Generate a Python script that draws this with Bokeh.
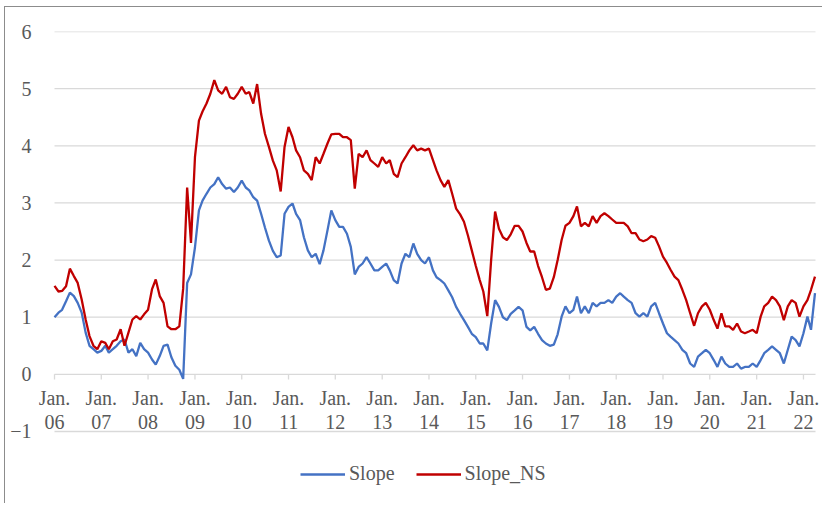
from datetime import datetime, timedelta

import pandas as pd
from bokeh.embed import file_html
from bokeh.models import ColumnDataSource, LabelSet, Legend, LegendItem, Range1d
from bokeh.plotting import figure
from bokeh.resources import INLINE

# month-start values (Jan 2006 .. Apr 2022)
slope = [
    1.00, 1.08, 1.13, 1.28, 1.43, 1.37, 1.25, 1.08, 0.73, 0.50, 0.44, 0.38,  # 2006
    0.41, 0.50, 0.38, 0.44, 0.50, 0.58, 0.61, 0.38, 0.44, 0.32, 0.55, 0.44,  # 2007
    0.38, 0.26, 0.17, 0.32, 0.50, 0.52, 0.30, 0.15, 0.08, -0.08, 1.60, 1.75,  # 2008
    2.22, 2.87, 3.04, 3.16, 3.27, 3.33, 3.45, 3.33, 3.25, 3.27, 3.19, 3.27,  # 2009
    3.39, 3.27, 3.22, 3.10, 3.04, 2.81, 2.57, 2.34, 2.16, 2.05, 2.08, 2.81,  # 2010
    2.93, 2.99, 2.81, 2.70, 2.40, 2.17, 2.05, 2.11, 1.93, 2.17, 2.52, 2.87,  # 2011
    2.70, 2.58, 2.58, 2.46, 2.23, 1.75, 1.88, 1.94, 2.05, 1.94, 1.82, 1.82,  # 2012
    1.88, 1.94, 1.82, 1.65, 1.59, 1.94, 2.11, 2.05, 2.29, 2.11, 2.00, 1.94,  # 2013
    2.05, 1.82, 1.70, 1.65, 1.59, 1.47, 1.35, 1.18, 1.06, 0.95, 0.83, 0.71,  # 2014
    0.65, 0.54, 0.54, 0.42, 0.89, 1.30, 1.18, 1.00, 0.95, 1.06, 1.12, 1.18,  # 2015
    1.12, 0.83, 0.77, 0.83, 0.71, 0.60, 0.54, 0.50, 0.52, 0.70, 1.01, 1.19,  # 2016
    1.07, 1.13, 1.36, 1.07, 1.19, 1.07, 1.25, 1.19, 1.25, 1.25, 1.30, 1.25,  # 2017
    1.36, 1.42, 1.36, 1.30, 1.25, 1.07, 1.01, 1.07, 1.01, 1.19, 1.25, 1.07,  # 2018
    0.89, 0.72, 0.66, 0.60, 0.54, 0.43, 0.37, 0.19, 0.13, 0.31, 0.37, 0.43,  # 2019
    0.37, 0.25, 0.13, 0.31, 0.19, 0.13, 0.13, 0.19, 0.10, 0.13, 0.13, 0.19,  # 2020
    0.13, 0.25, 0.37, 0.43, 0.49, 0.43, 0.37, 0.19, 0.43, 0.66, 0.60, 0.49,  # 2021
    0.72, 1.01, 0.78, 1.42,                                                  # 2022
]

slope_ns = [
    1.55, 1.45, 1.46, 1.54, 1.85, 1.72, 1.60, 1.31, 0.96, 0.67, 0.50, 0.44,  # 2006
    0.58, 0.55, 0.44, 0.58, 0.61, 0.79, 0.50, 0.73, 0.96, 1.02, 0.96, 1.05,  # 2007
    1.13, 1.49, 1.66, 1.37, 1.25, 0.84, 0.79, 0.79, 0.84, 1.50, 3.27, 2.30,  # 2008
    3.80, 4.44, 4.60, 4.74, 4.91, 5.15, 4.97, 4.91, 5.03, 4.85, 4.82, 4.91,  # 2009
    5.03, 4.91, 4.94, 4.74, 5.08, 4.56, 4.21, 3.98, 3.74, 3.57, 3.20, 3.98,  # 2010
    4.33, 4.15, 3.92, 3.80, 3.57, 3.51, 3.40, 3.80, 3.69, 3.86, 4.04, 4.20,  # 2011
    4.21, 4.21, 4.15, 4.15, 4.10, 3.25, 3.86, 3.80, 3.92, 3.75, 3.69, 3.63,  # 2012
    3.80, 3.69, 3.75, 3.51, 3.45, 3.69, 3.80, 3.92, 4.01, 3.92, 3.95, 3.92,  # 2013
    3.95, 3.75, 3.57, 3.40, 3.28, 3.40, 3.16, 2.90, 2.80, 2.67, 2.43, 2.17,  # 2014
    1.90, 1.65, 1.45, 1.02, 2.00, 2.85, 2.55, 2.40, 2.35, 2.45, 2.60, 2.60,  # 2015
    2.50, 2.30, 2.15, 2.15, 1.90, 1.70, 1.48, 1.50, 1.70, 2.00, 2.35, 2.60,  # 2016
    2.65, 2.77, 2.94, 2.59, 2.65, 2.59, 2.77, 2.65, 2.77, 2.82, 2.77, 2.71,  # 2017
    2.65, 2.65, 2.65, 2.59, 2.47, 2.47, 2.36, 2.33, 2.36, 2.42, 2.39, 2.24,  # 2018
    2.06, 1.95, 1.83, 1.71, 1.65, 1.48, 1.30, 1.07, 0.85, 1.07, 1.19, 1.25,  # 2019
    1.13, 0.95, 0.80, 1.07, 0.84, 0.84, 0.78, 0.89, 0.75, 0.72, 0.75, 0.78,  # 2020
    0.72, 1.01, 1.19, 1.25, 1.36, 1.30, 1.19, 0.95, 1.19, 1.30, 1.25, 1.01,  # 2021
    1.19, 1.30, 1.48, 1.71,                                                  # 2022
]

year_labels = ["06", "07", "08", "09", "10", "11", "12", "13", "14",
               "15", "16", "17", "18", "19", "20", "21", "22"]
y_ticks = [-1, 0, 1, 2, 3, 4, 5, 6]

FONT = "'Liberation Serif', serif"
TEXT = "#595959"
GRID = "#d9d9d9"

months = pd.date_range("2006-01-01", periods=len(slope), freq="MS")
jan_ticks = pd.date_range("2006-01-01", periods=len(year_labels), freq="YS")
axis_start = datetime(2006, 1, 1)
axis_end = datetime(2022, 4, 5)

# the plot frame is wider/taller than the axis box so that the tick labels
# and the legend (drawn inside the frame) are not clipped
PX_YEAR = 46.8
PX_UNIT = 57.14
x_lo = axis_start - timedelta(days=365.25 * 16 / PX_YEAR)
x_hi = axis_end + timedelta(days=365.25 * 8 / PX_YEAR)
y_lo = -1 - 59 / PX_UNIT

src = ColumnDataSource(data=dict(x=months, slope=slope, slope_ns=slope_ns))
tick_src = ColumnDataSource(data=dict(
    x=jan_ticks, y=[0] * len(year_labels),
    jan=["Jan."] * len(year_labels), yr=year_labels,
))
grid_src = ColumnDataSource(data=dict(
    x0=[axis_start] * len(y_ticks), x1=[axis_end] * len(y_ticks), y=y_ticks,
))

p = figure(width=818, height=497, x_axis_type="datetime",
           x_range=Range1d(x_lo, x_hi), y_range=Range1d(y_lo, 6),
           min_border_left=33, min_border_right=0,
           min_border_top=24, min_border_bottom=14,
           toolbar_location=None, output_backend="svg")
# chart-area box, as in the spreadsheet export (only left/top edges show)
p.styles = {"margin-left": "4px", "margin-top": "6px",
            "border-left": "1px solid #8c8c8c", "border-top": "1px solid #8c8c8c"}
p.outline_line_color = None
p.background_fill_color = "white"
p.border_fill_color = "white"

p.xaxis.visible = False
p.xgrid.visible = False
p.ygrid.visible = False

p.yaxis.ticker = y_ticks
p.yaxis.axis_line_color = None
p.yaxis.major_tick_line_color = None
p.yaxis.minor_tick_line_color = None
p.yaxis.major_label_standoff = 1
p.yaxis.major_label_text_font = FONT
p.yaxis.major_label_text_font_size = "20px"
p.yaxis.major_label_text_color = TEXT

# horizontal gridlines (only across the axis box)
p.segment(x0="x0", y0="y", x1="x1", y1="y", source=grid_src,
          line_color=GRID, line_width=1.3)
# category axis sits on the zero line, with small ticks under it
p.segment(x0="x", y0=0, x1="x", y1=-0.09, source=tick_src,
          line_color=GRID, line_width=1.3)

r1 = p.line("x", "slope", source=src, line_color="#4472C4", line_width=2.3)
r2 = p.line("x", "slope_ns", source=src, line_color="#C00000", line_width=2.3)

for col, off in (("jan", -31), ("yr", -55)):
    p.add_layout(LabelSet(x="x", y="y", text=col, source=tick_src, y_offset=off,
                          text_align="center", text_baseline="alphabetic",
                          text_font=FONT, text_font_size="20px", text_color=TEXT))

legend = Legend(items=[LegendItem(label="Slope", renderers=[r1]),
                       LegendItem(label="Slope_NS", renderers=[r2])],
                orientation="horizontal", location=(262, 5),
                padding=0, margin=0, spacing=21, glyph_width=45,
                label_standoff=4, border_line_color=None,
                background_fill_alpha=0,
                label_text_font=FONT, label_text_font_size="20px",
                label_text_color=TEXT)
p.add_layout(legend, "center")

open("out.html", "w").write(file_html(p, INLINE))
